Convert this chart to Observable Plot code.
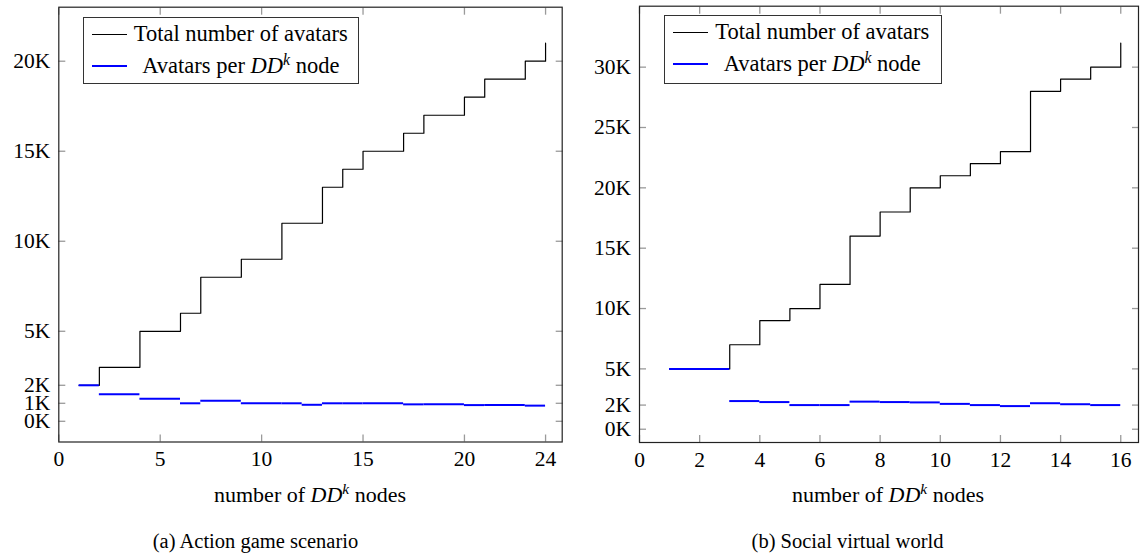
<!DOCTYPE html>
<html><head><meta charset="utf-8">
<script src="https://cdn.jsdelivr.net/npm/d3@7"></script>
<script src="https://cdn.jsdelivr.net/npm/@observablehq/plot@0.6"></script>
<style>
body{margin:0;background:#fff;}
#wrap{position:relative;width:1142px;height:557px;font-family:"Liberation Serif",serif;color:#000;overflow:hidden;}
.chart{position:absolute;top:0;}
.legend{position:absolute;background:#fff;border:1.3px solid #333;box-sizing:border-box;}
.swatch{position:absolute;left:7.5px;width:35.5px;height:0;}
.ltext{position:absolute;text-align:center;font-size:22.5px;line-height:22px;white-space:nowrap;}
.xtitle,.caption{position:absolute;white-space:nowrap;transform:translateX(-50%);line-height:1;}
.xtitle{font-size:22px;}
.caption{font-size:20.5px;}
sup{font-size:0.7em;line-height:0;vertical-align:0.5em;}
</style></head><body>
<div id="wrap"></div>
<script>
// ---- data: (a) Action game scenario ----
const leftNodes    = [1, 2, 4, 6, 7, 9, 11, 12, 13, 14, 15, 17, 18, 20, 21, 23, 24];
const leftTotal    = [2000, 3000, 5000, 6000, 8000, 9000, 11000, 11000, 13000, 14000, 15000, 16000, 17000, 18000, 19000, 20000, 21000];
const leftPerNode  = [2000, 1500, 1250, 1000, 1143, 1000, 1000, 917, 1000, 1000, 1000, 941, 944, 900, 905, 870, 875];
const leftXTicks   = [0, 5, 10, 15, 20, 24];
const leftYTicks   = [0, 1000, 2000, 5000, 10000, 15000, 20000];

// ---- data: (b) Social virtual world ----
const rightNodes   = [1, 3, 4, 5, 6, 7, 8, 9, 10, 11, 12, 13, 14, 15, 16];
const rightTotal   = [5000, 7000, 9000, 10000, 12000, 16000, 18000, 20000, 21000, 22000, 23000, 28000, 29000, 30000, 32000];
const rightPerNode = [5000, 2333, 2250, 2000, 2000, 2286, 2250, 2222, 2100, 2000, 1917, 2154, 2071, 2000, 2000];
const rightXTicks  = [0, 2, 4, 6, 8, 10, 12, 14, 16];
const rightYTicks  = [0, 2000, 5000, 10000, 15000, 20000, 25000, 30000];

const seriesNames = ["Total number of avatars", "Avatars per <i>DD<sup>k</sup></i> node"];
const xTitle = "number of <i>DD<sup>k</sup></i> nodes";
const captions = ["(a) Action game scenario", "(b) Social virtual world"];

function makeChart(o) {
  const totalData = o.nodes.map((x, i) => ({x, y: o.total[i]}));
  const segs = o.nodes.slice(0, -1).map((x, i) => ({x1: x, x2: o.nodes[i + 1], y: o.per[i]}));
  const fmt = d => d / 1000 + "K";
  const tk = {stroke: "#9a9a9a", strokeWidth: 1.3, text: null, label: null, tickSize: -7};
  return Plot.plot({
    width: o.width, height: o.height,
    marginLeft: o.ml, marginRight: o.mr, marginTop: o.mt, marginBottom: o.mb,
    style: {fontFamily: '"Liberation Serif", serif', fontSize: "21.5px", color: "#000", background: "transparent", overflow: "visible"},
    x: {domain: o.xDomain},
    y: {domain: o.yDomain},
    marks: [
      Plot.axisX({ticks: o.xTicks, anchor: "bottom", ...tk}),
      Plot.axisX({ticks: o.xTicks, anchor: "top", ...tk}),
      Plot.axisY({ticks: o.yTicks, anchor: "left", ...tk}),
      Plot.axisY({ticks: o.yTicks, anchor: "right", ...tk}),
      Plot.axisX({ticks: o.xTicks, anchor: "bottom", tickSize: 0, tickPadding: 9, label: null, fill: "#000"}),
      Plot.axisY({ticks: o.yTicks, anchor: "left", tickSize: 0, tickPadding: 8.5, tickFormat: fmt, label: null, fill: "#000"}),
      Plot.line(totalData, {x: "x", y: "y", curve: "step-after", stroke: "#000", strokeWidth: 1.2}),
      Plot.ruleY(segs, {y: "y", x1: "x1", x2: "x2", stroke: "#0000ff", strokeWidth: 2}),
      Plot.frame({stroke: "#222", strokeWidth: 1.2})
    ]
  });
}

const wrap = document.getElementById("wrap");

const specs = [
  {left: 0, width: 570, height: 476, ml: 58.3, mr: 8.3, mt: 6.7, mb: 34.5,
   xDomain: [0, 24.82], yDomain: [-1150, 23000],
   nodes: leftNodes, total: leftTotal, per: leftPerNode, xTicks: leftXTicks, yTicks: leftYTicks,
   legend: {left: 83.3, top: 16.7, width: 276, height: 67.5}, titleX: 310, capX: 255.5},
  {left: 570, width: 572, height: 476, ml: 69, mr: 4, mt: 5.7, mb: 34,
   xDomain: [0, 16.59], yDomain: [-1100, 35050],
   nodes: rightNodes, total: rightTotal, per: rightPerNode, xTicks: rightXTicks, yTicks: rightYTicks,
   legend: {left: 664, top: 15, width: 277.5, height: 69}, titleX: 888, capX: 847.5}
];

specs.forEach((s, i) => {
  const svg = makeChart(s);
  svg.classList.add("chart");
  svg.style.left = s.left + "px";
  wrap.appendChild(svg);

  const lg = document.createElement("div");
  lg.className = "legend";
  Object.assign(lg.style, {left: s.legend.left + "px", top: s.legend.top + "px", width: s.legend.width + "px", height: s.legend.height + "px"});
  const colors = ["#000", "#0000ff"], widths = [1.2, 2];
  [0, 1].forEach(r => {
    const sw = document.createElement("div");
    sw.className = "swatch";
    sw.style.top = (r === 0 ? 16.2 : 47.2) + "px";
    sw.style.borderTop = widths[r] + "px solid " + colors[r];
    lg.appendChild(sw);
    const t = document.createElement("div");
    t.className = "ltext";
    t.style.left = "49px"; t.style.right = "10px";
    t.style.top = (r === 0 ? 5.2 : 37.2) + "px";
    t.innerHTML = seriesNames[r];
    lg.appendChild(t);
  });
  wrap.appendChild(lg);

  const xt = document.createElement("div");
  xt.className = "xtitle";
  xt.style.left = s.titleX + "px"; xt.style.top = "484px";
  xt.innerHTML = xTitle;
  wrap.appendChild(xt);

  const cp = document.createElement("div");
  cp.className = "caption";
  cp.style.left = s.capX + "px"; cp.style.top = "531px";
  cp.textContent = captions[i];
  wrap.appendChild(cp);
});
</script>
</body></html>
